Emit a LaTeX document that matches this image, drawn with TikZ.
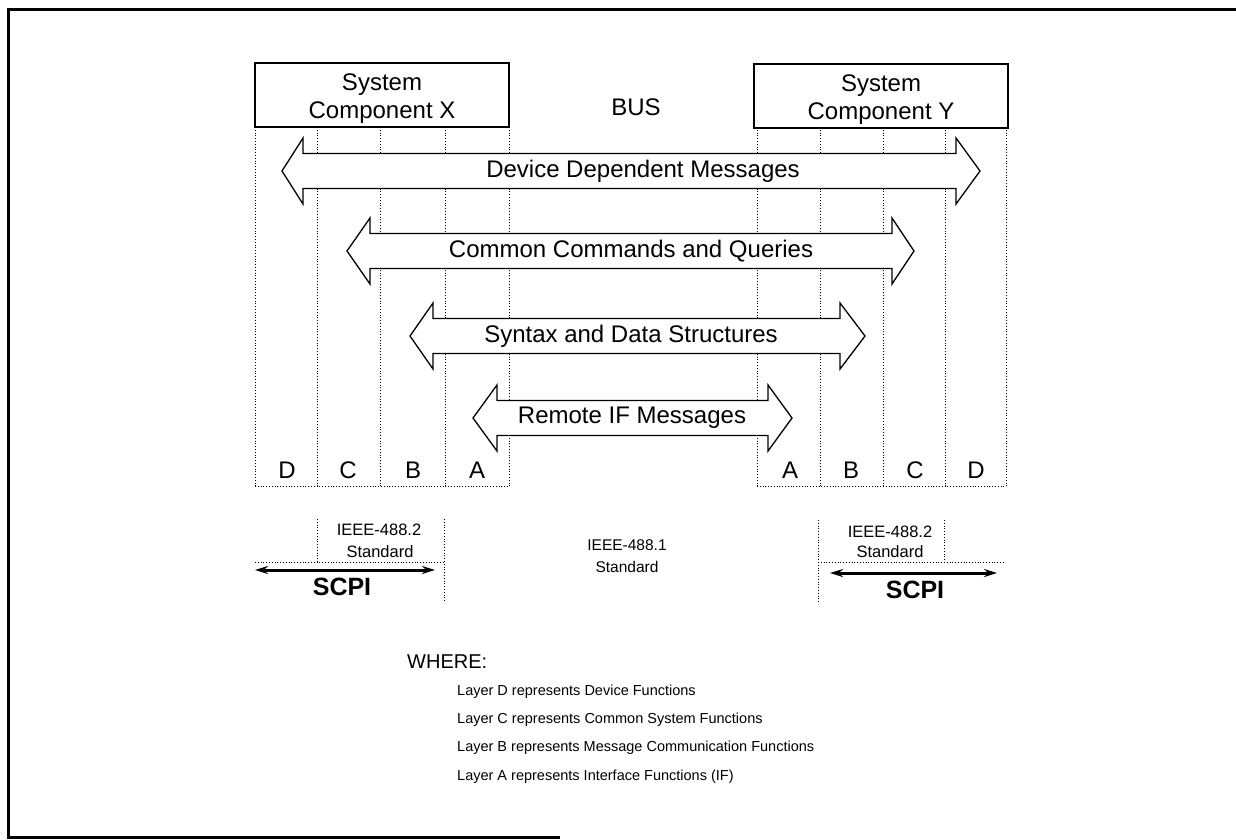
\documentclass[tikz,border=0pt]{standalone}
\usepackage{fontspec}
\setmainfont{Liberation Sans}
\usetikzlibrary{arrows.meta}
\newcommand\blockarr[5]{% left tip, left base, right base, right tip, centre y
  \draw[blk] (#1,#5) -- (#2,{#5-33}) -- (#2,{#5-17.5}) -- (#3,{#5-17.5}) -- (#3,{#5-33})
    -- (#4,#5) -- (#3,{#5+33}) -- (#3,{#5+17.5}) -- (#2,{#5+17.5}) -- (#2,{#5+33}) -- cycle;}
\begin{document}
\begin{tikzpicture}[x=1pt,y=-1pt,
  dotl/.style={line width=0.9pt, dash pattern=on 0.9pt off 1.9pt},
  comp/.style={draw, line width=1.5pt, minimum width=254pt, minimum height=64pt, inner sep=0pt},
  blk/.style={draw, line width=1.3pt, fill=white, line join=miter},
  lbl/.style={font=\fontsize{24}{28}\selectfont, inner sep=0pt},
  std/.style={font=\fontsize{16.5}{22}\selectfont, inner sep=0pt},
  scpi/.style={font=\fontsize{25}{28}\selectfont\bfseries, inner sep=0pt},
  scpiarr/.style={line width=3pt, {Stealth[length=13pt,width=8pt]}-{Stealth[length=13pt,width=8pt]}},
  legend/.style={font=\fontsize{14.5}{18}\selectfont, inner sep=0pt, anchor=west}
]
\useasboundingbox (0,0) rectangle (1236,839);
% frame
\draw[line width=3pt] (560,837) -- (8,837) -- (8,9) -- (1236,9);

% component boxes
\node[comp] (cx) at (382,95) {};
\node[lbl, align=center] (cxt) at (382,99) {System\\Component X};
\node[comp] (cy) at (881,96) {};
\node[lbl, align=center] (cyt) at (881,100) {System\\Component Y};
\node[lbl] (bus) at (636,107) {BUS};

% layer columns
\foreach \xx in {255,317,380,445,509,757,820,883,945,1006}
  \draw[dotl] (\xx,127) -- (\xx,486);
\draw[dotl] (255,486) -- (509,486);
\draw[dotl] (757,486) -- (1006,486);

% block arrows
\blockarr{282}{303}{956}{980}{171}
\blockarr{347}{370}{892}{914}{251}
\blockarr{410}{433}{840}{865}{336}
\blockarr{473}{497}{768}{792}{418}
\node[lbl] (ddm) at (643,171) {Device Dependent Messages};
\node[lbl] (ccq) at (631,251) {Common Commands and Queries};
\node[lbl] (sds) at (631,336) {Syntax and Data Structures};
\node[lbl] (rif) at (632,418) {Remote IF Messages};

% layer letters
\node[lbl] (ld) at (287,470) {D};
\node[lbl] (lc) at (348,470) {C};
\node[lbl] (lb) at (413,470) {B};
\node[lbl] (la) at (477,470) {A};
\node[lbl] (ra) at (790,470) {A};
\node[lbl] (rb) at (851,470) {B};
\node[lbl] (rc) at (915,470) {C};
\node[lbl] (rd) at (976,470) {D};

% bottom left
\draw[dotl] (317,519) -- (317,562);
\draw[dotl] (444,519) -- (444,603);
\draw[dotl] (255,562) -- (444,562);
\node[std] (ieeel) at (379,530) {IEEE-488.2};
\node[std] (stdl) at (380,552) {Standard};
\coordinate (sl1) at (255,570);
\coordinate (sl2) at (435,570);
\draw[scpiarr] (sl1) -- (sl2);
\node[scpi] (scpil) at (342,587) {SCPI};

% middle
\node[std, font=\fontsize{15.5}{20}\selectfont] (ieeem) at (627,545) {IEEE-488.1};
\node[std, font=\fontsize{15.5}{20}\selectfont] (stdm) at (627,567) {Standard};

% bottom right
\draw[dotl] (818,520) -- (818,603);
\draw[dotl] (944,520) -- (944,562);
\draw[dotl] (818,562) -- (1003,562);
\node[std] (ieeer) at (890,532) {IEEE-488.2};
\node[std] (stdr) at (890,552) {Standard};
\coordinate (sr1) at (830,573);
\coordinate (sr2) at (997,573);
\draw[scpiarr] (sr1) -- (sr2);
\node[scpi] (scpir) at (915,590) {SCPI};

% legend
\node[legend, font=\fontsize{20}{22}\selectfont] (where) at (407,662) {WHERE:};
\node[legend] (lgd) at (457,692) {Layer D represents Device Functions};
\node[legend] (lgc) at (457,720) {Layer C represents Common System Functions};
\node[legend] (lgb) at (457,748) {Layer B represents Message Communication Functions};
\node[legend] (lga) at (457,777) {Layer A represents Interface Functions (IF)};
\end{tikzpicture}
\end{document}
